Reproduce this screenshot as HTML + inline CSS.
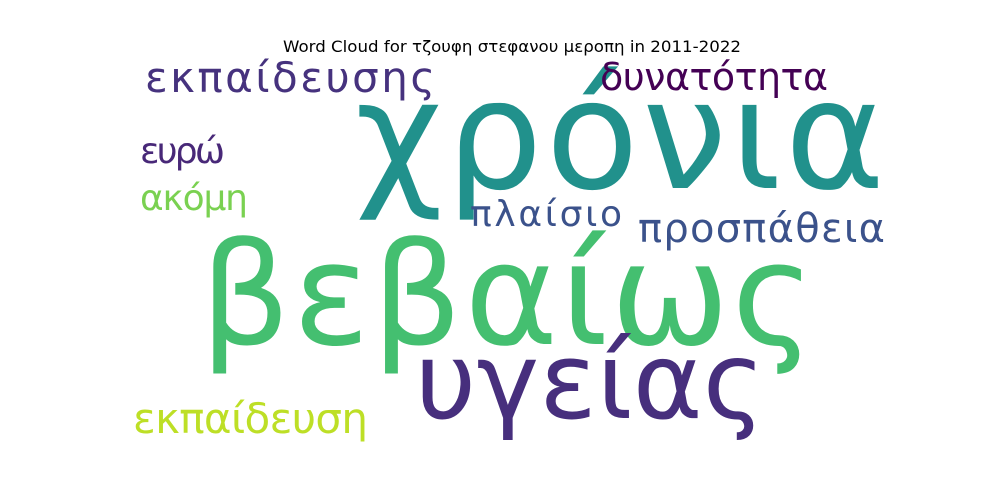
<!DOCTYPE html>
<html><head><meta charset="utf-8"><style>
html,body{margin:0;padding:0;background:#fff;}
svg{display:block;font-family:"DejaVu Sans","Liberation Sans",sans-serif;}
</style></head><body>
<svg id="cloud" width="1000" height="500">
<rect width="1000" height="500" fill="#fff"/>
<text x="283" y="52" font-size="16" textLength="458" lengthAdjust="spacingAndGlyphs" fill="#000">Word Cloud for τζουφη στεφανου μεροπη in 2011-2022</text>
</svg>
<script>
const words = ["χρόνια","βεβαίως","υγείας","εκπαίδευσης","δυνατότητα","ευρώ","ακόμη","πλαίσιο","προσπάθεια","εκπαίδευση"];
const sizes = [152,142,106,42,38,36,36,36,40,42];
const colors = ["#21918c","#44bf70","#472f7d","#46327e","#440154","#482878","#7ad151","#3b528b","#3b528b","#bddf26"];
const xs = [355,200,415,145,600,140,140,470,638,133];
const ys = [188,344,418,92,90,163,210,226,242,433];
const widths = [530,615,350,290,228,85,108,152,247,235];
const svg = document.getElementById('cloud');
words.forEach((w,i)=>{
  const t = document.createElementNS('http://www.w3.org/2000/svg','text');
  t.setAttribute('x', xs[i]);
  t.setAttribute('y', ys[i]);
  t.setAttribute('font-size', sizes[i]);
  t.setAttribute('fill', colors[i]);
  t.setAttribute('textLength', widths[i]);
  t.setAttribute('lengthAdjust', 'spacing');
  t.textContent = w;
  
  
  svg.appendChild(t);
});
</script>
</body></html>
